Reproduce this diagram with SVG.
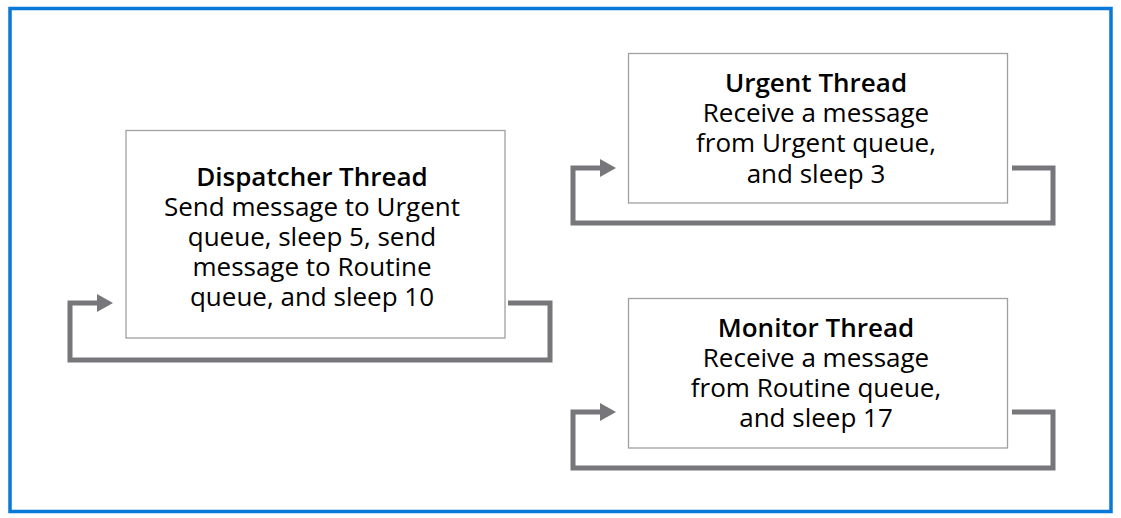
<svg xmlns="http://www.w3.org/2000/svg" width="1121" height="518" viewBox="0 0 1121 518">
<style>
.box{fill:#fff;stroke:#a0a0a0;stroke-width:1.3}
.t{font-family:"Open Sans","Noto Sans",sans-serif;font-size:26px;fill:#000;text-anchor:middle}
.b{font-weight:600}
.c{fill:none;stroke:#77767a;stroke-width:5;stroke-linejoin:miter}
.ah{fill:#77767a}
</style>
<rect x="0" y="0" width="1121" height="518" fill="#fff"/>
<rect x="10" y="8.5" width="1101" height="503" fill="none" stroke="#0a78d7" stroke-width="3.5"/>
<g id="connectors">
<path class="c" d="M508,303 H550 V360 H70 V303 H99"/>
<polygon class="ah" points="97,294 113,303 97,312"/>
<path class="c" d="M1012,168 H1053 V223 H573 V168 H602"/>
<polygon class="ah" points="600,159 616,168 600,177"/>
<path class="c" d="M1012,412 H1053 V468 H573 V412 H602"/>
<polygon class="ah" points="600,403 616,412 600,421"/>
</g>
<g id="dispatcher">
<rect class="box" x="126" y="130.5" width="379" height="207.5"/>
<text class="t" x="312" y="186"><tspan class="b" x="312">Dispatcher Thread</tspan><tspan x="312" dy="30">Send message to Urgent</tspan><tspan x="312" dy="30">queue, sleep 5, send</tspan><tspan x="312" dy="30">message to Routine</tspan><tspan x="312" dy="30">queue, and sleep 10</tspan></text>
</g>
<g id="urgent">
<rect class="box" x="628.5" y="53.5" width="379" height="149.5"/>
<text class="t" x="816" y="92"><tspan class="b" x="816">Urgent Thread</tspan><tspan x="816" dy="30">Receive a message</tspan><tspan x="816" dy="30">from Urgent queue,</tspan><tspan x="816" dy="31">and sleep 3</tspan></text>
</g>
<g id="monitor">
<rect class="box" x="628.5" y="298.5" width="379" height="149.5"/>
<text class="t" x="816" y="337"><tspan class="b" x="816">Monitor Thread</tspan><tspan x="816" dy="30">Receive a message</tspan><tspan x="816" dy="30">from Routine queue,</tspan><tspan x="816" dy="30">and sleep 17</tspan></text>
</g>
</svg>
